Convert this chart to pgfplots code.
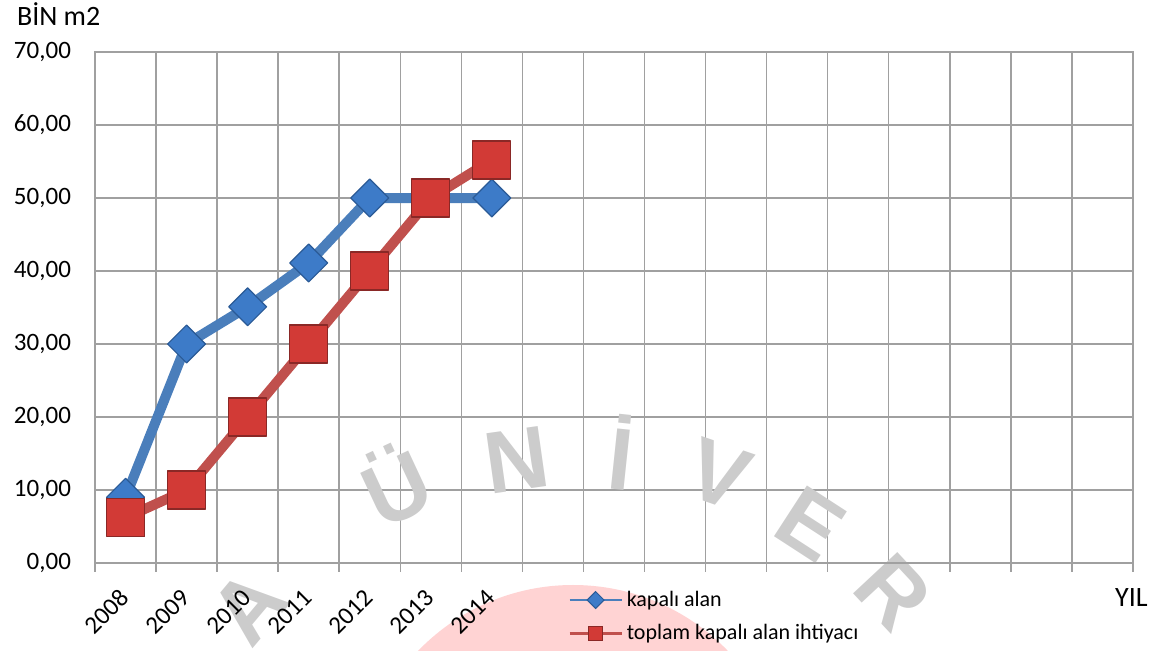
\documentclass[border=0pt]{standalone}
\usepackage{fontspec}
\setmainfont{Carlito}
\newfontfamily\wmfont{Liberation Sans}
\usepackage{pgfplots}
\pgfplotsset{compat=1.18}
\definecolor{blueline}{HTML}{4A7EBB}
\definecolor{bluemark}{HTML}{3D7BC8}
\definecolor{bluedark}{HTML}{2A5A96}
\definecolor{redline}{HTML}{C0504D}
\definecolor{redmark}{HTML}{D23A36}
\definecolor{reddark}{HTML}{8A2826}
\definecolor{gridgray}{HTML}{A0A0A0}
\definecolor{wmgray}{HTML}{CCCCCC}
\definecolor{wmpink}{HTML}{FFD3D3}
\begin{document}
\begin{tikzpicture}
\begin{axis}[
  set layers,
  clip=false,
  scale only axis, width=519pt, height=255.5pt,
  xmin=-0.5, xmax=16.5, ymin=0, ymax=70,
  xtick={0,...,6}, xticklabels={2008,2009,2010,2011,2012,2013,2014},
  minor xtick={-0.5,0.5,...,16.5},
  ytick={0,10,...,70},
  tick pos=left,
  xminorgrids=true, ymajorgrids=true, xmajorgrids=false,
  grid style={gridgray, line width=0.75pt},
  minor grid style={gridgray, line width=0.75pt},
  axis line style={gridgray, line width=0.75pt},
  major tick length=0pt, minor tick length=4.5pt, tick align=outside,
  minor tick style={gridgray, line width=0.75pt},
  tick label style={font=\fontsize{12.5}{12.5}\selectfont, color=black},
  yticklabel style={xshift=-8.5pt},
  xticklabel style={yshift=-13pt, xshift=2pt, rotate=45, anchor=east},
  /pgf/number format/fixed,
  /pgf/number format/fixed zerofill,
  /pgf/number format/precision=2,
  /pgf/number format/use comma,
  /pgf/number format/assume math mode=true,
  legend style={at={(0.4557,-0.046)}, anchor=north west, draw=none, fill=none,
    font=\fontsize{11}{11}\selectfont, row sep=3.5pt, inner sep=0pt},
  legend cell align=left,
  legend image code/.code={\draw[mark repeat=2, mark phase=2, #1] plot coordinates {(0pt,0pt) (13pt,0pt) (26pt,0pt)};},
]
\begin{pgfonlayer}{axis background}
\fill[wmpink] (rel axis cs:0.4605,-0.4638) circle[radius=107.5pt];
\end{pgfonlayer}
\begin{pgfonlayer}{axis ticks}
\node[wmgray, font=\wmfont\bfseries\fontsize{44}{44}\selectfont, rotate=50] at (rel axis cs:0.1484,-0.0861) {A};
\node[wmgray, font=\wmfont\bfseries\fontsize{44}{44}\selectfont, rotate=25] at (rel axis cs:0.2890,0.1566) {Ü};
\node[wmgray, font=\wmfont\bfseries\fontsize{44}{44}\selectfont, rotate=8] at (rel axis cs:0.4066,0.2016) {N};
\node[wmgray, font=\wmfont\bfseries\fontsize{44}{44}\selectfont, rotate=-6] at (rel axis cs:0.5077,0.2172) {İ};
\node[wmgray, font=\wmfont\bfseries\fontsize{44}{44}\selectfont, rotate=-19] at (rel axis cs:0.6012,0.1742) {V};
\node[wmgray, font=\wmfont\bfseries\fontsize{44}{44}\selectfont, rotate=-33] at (rel axis cs:0.6898,0.0763) {E};
\node[wmgray, font=\wmfont\bfseries\fontsize{44}{44}\selectfont, rotate=-47] at (rel axis cs:0.7688,-0.0568) {R};
\end{pgfonlayer}

\addlegendimage{blueline, line width=1.2pt, mark=square*, mark size=3pt, mark options={rotate=45, fill=bluemark, draw=bluedark, line width=0.5pt}}
\addlegendentry{kapalı alan}
\addlegendimage{redline, line width=1.2pt, mark=square*, mark size=3.5pt, mark options={fill=redmark, draw=reddark, line width=0.5pt}}
\addlegendentry{toplam kapalı alan ihtiyacı}

\addplot[blueline, line width=5pt, line join=round, mark=square*, mark size=6.7pt,
  mark options={rotate=45, fill=bluemark, draw=bluedark, line width=0.6pt}, forget plot]
  coordinates {(0,9) (1,30) (2,35.1) (3,41.1) (4,50) (5,50) (6,50)};
\addplot[redline, line width=5pt, line join=round, mark=square*, mark size=9.5pt,
  mark options={fill=redmark, draw=reddark, line width=0.6pt}, forget plot]
  coordinates {(0,6.2) (1,10) (2,20) (3,30) (4,40) (5,50) (6,55.2)};

\node[anchor=west, font=\fontsize{14}{14}\selectfont] at (rel axis cs:-0.0819,1.0744) {BİN m2};
\node[anchor=west, font=\fontsize{14}{14}\selectfont] at (rel axis cs:0.976,-0.0685) {YIL};
\coordinate (bbBL) at (rel axis cs:-0.0915,-0.1703);
\coordinate (bbTR) at (rel axis cs:1.0164,1.1018);
\end{axis}
\pgfresetboundingbox
\useasboundingbox (bbBL) rectangle (bbTR);
\end{tikzpicture}
\end{document}
